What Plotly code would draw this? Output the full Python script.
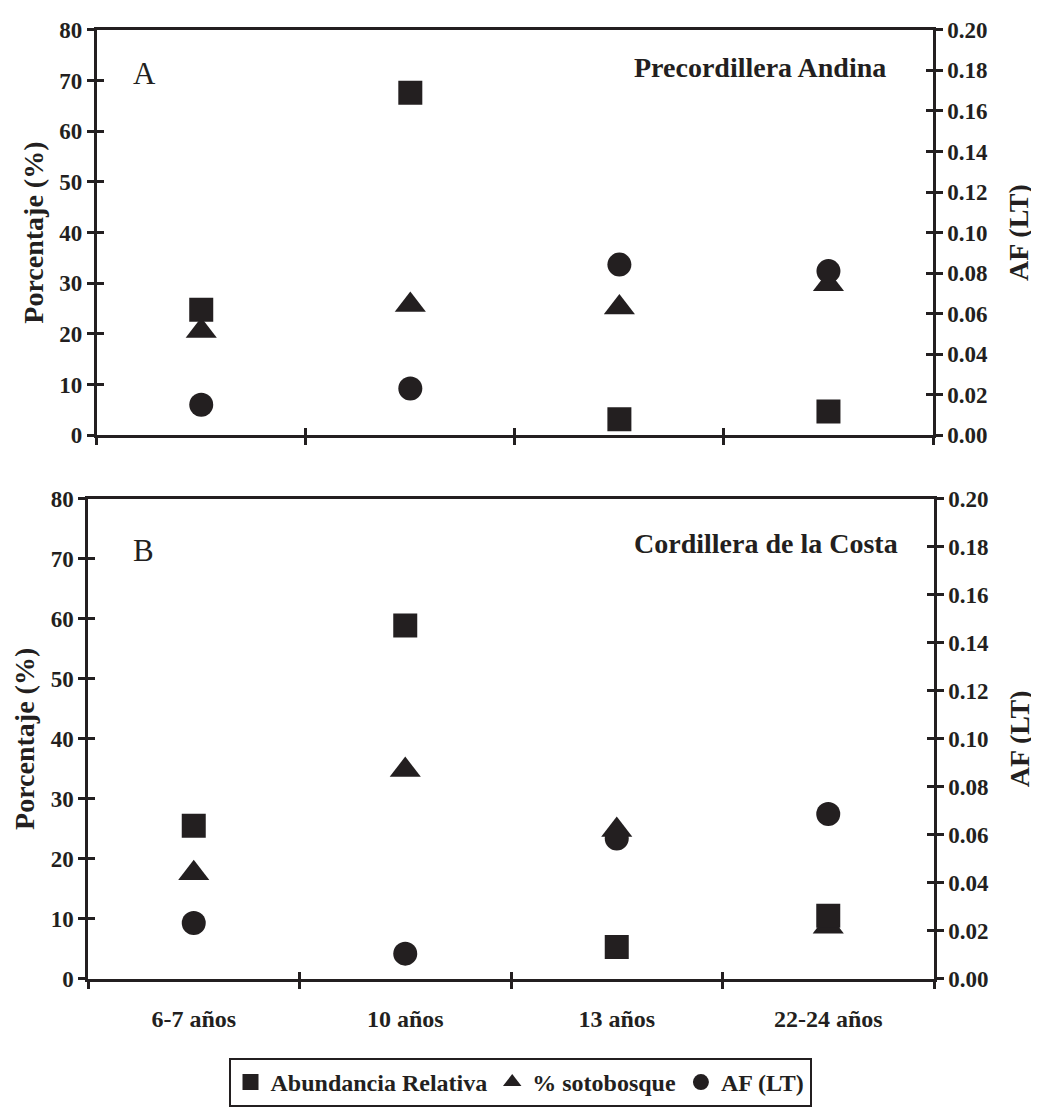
import plotly.graph_objects as go

# ---------------- data ----------------
categories = ["6-7 años", "10 años", "13 años", "22-24 años"]
cat_pos = [0, 1, 2, 3]
boundaries = [-0.5, 0.5, 1.5, 2.5, 3.5]

# Panel A: Precordillera Andina
abund_A = [24.8, 67.6, 3.2, 4.7]          # Abundancia Relativa (%)
soto_A = [20.6, 25.7, 25.2, 29.8]         # % sotobosque
af_A = [0.0151, 0.0231, 0.0842, 0.0810]   # AF (LT), right axis

# Panel B: Cordillera de la Costa
abund_B = [25.5, 58.9, 5.3, 10.5]
soto_B = [17.6, 34.8, 24.8, 8.7]
af_B = [0.0233, 0.0105, 0.0585, 0.0687]

left_ticks = list(range(0, 81, 10))
right_ticks = [0.00, 0.02, 0.04, 0.06, 0.08, 0.10, 0.12, 0.14, 0.16, 0.18, 0.20]

INK = "#231f20"
FONT = "Liberation Serif"
OFF = 8                      # page body margin offset
W, H = 1039 - OFF, 1114 - OFF

fig = go.Figure()

panels = [
    dict(x="x", yl="y", yr="y2", ab=abund_A, so=soto_A, af=af_A, leg=True),
    dict(x="x2", yl="y5", yr="y6", ab=abund_B, so=soto_B, af=af_B, leg=False),
]
for p in panels:
    fig.add_trace(go.Scatter(x=cat_pos, y=p["so"], mode="markers", name="% sotobosque",
                             marker=dict(symbol="triangle-up", size=27, color=INK),
                             xaxis=p["x"], yaxis=p["yl"], showlegend=p["leg"], legendrank=2))
    fig.add_trace(go.Scatter(x=cat_pos, y=p["ab"], mode="markers", name="Abundancia Relativa",
                             marker=dict(symbol="square", size=24, color=INK),
                             xaxis=p["x"], yaxis=p["yl"], showlegend=p["leg"], legendrank=1))
    fig.add_trace(go.Scatter(x=cat_pos, y=p["af"], mode="markers", name="AF (LT)",
                             marker=dict(symbol="circle", size=24, color=INK),
                             xaxis=p["x"], yaxis=p["yr"], showlegend=p["leg"], legendrank=3))

# empty traces so overlay axes (inside halves of cross ticks) are drawn
for xa, ya in [("x3", "y"), ("x", "y3"), ("x", "y4"), ("x4", "y5"), ("x5", "y5"), ("x2", "y7"), ("x2", "y8")]:
    fig.add_trace(go.Scatter(x=[None], y=[None], mode="markers", xaxis=xa, yaxis=ya,
                             showlegend=False, hoverinfo="skip"))

def dx(a, b):
    return [(a - OFF) / W, (b - OFF) / W]

def dy(top, bottom):
    return [1 - (bottom - OFF) / H, 1 - (top - OFF) / H]

dom_xA = dx(96.7, 933)
dom_yA = dy(18, 433)
dom_xB = dx(88, 934)
dom_yB = dy(498, 989)

tick_font = dict(family=FONT, size=23, color=INK, weight="bold")
xlab_font = dict(family=FONT, size=24, color=INK, weight="bold")
title_font = dict(family=FONT, size=28, color=INK, weight="bold")
LW = 2.5
TL = 7

def xmain(domain, anchor):
    return dict(domain=domain, anchor=anchor, range=[-0.5, 3.5], tickmode="array",
                tickvals=boundaries, ticks="outside", ticklen=TL, tickwidth=LW, tickcolor=INK,
                showticklabels=False, showline=True, linewidth=LW, linecolor=INK, mirror=True,
                showgrid=False, zeroline=False, fixedrange=True)

def xinside(over, anchor):
    return dict(overlaying=over, anchor=anchor, range=[-0.5, 3.5], tickmode="array",
                tickvals=boundaries, ticks="inside", ticklen=TL, tickwidth=LW, tickcolor=INK,
                showticklabels=False, showline=False, showgrid=False, zeroline=False)

def yleft(domain, anchor):
    return dict(domain=domain, anchor=anchor, range=[0, 80], tickmode="array", tickvals=left_ticks,
                ticks="outside", ticklen=TL, tickwidth=LW, tickcolor=INK, tickfont=tick_font,
                showline=True, linewidth=LW, linecolor=INK, showgrid=False, zeroline=False,
                title=dict(text="Porcentaje (%)", font=title_font, standoff=8))

def yright(over, anchor):
    return dict(overlaying=over, anchor=anchor, side="right", range=[0, 0.2], tickmode="array",
                tickvals=right_ticks, tickformat=".2f", ticks="outside", ticklen=TL, tickwidth=LW,
                tickcolor=INK, tickfont=tick_font, showline=True, linewidth=LW, linecolor=INK,
                showgrid=False, zeroline=False,
                title=dict(text="AF (LT)", font=title_font, standoff=22))

def yinside(over, anchor, side, rng):
    return dict(overlaying=over, anchor=anchor, side=side, range=rng, tickmode="array",
                tickvals=(left_ticks if rng[1] == 80 else right_ticks), ticks="inside",
                ticklen=TL, tickwidth=LW, tickcolor=INK, showticklabels=False, showline=False,
                showgrid=False, zeroline=False)

fig.update_layout(
    width=W, height=H,
    margin=dict(l=0, r=0, t=0, b=0),
    paper_bgcolor="white", plot_bgcolor="white",
    font=dict(family=FONT, size=23, color=INK, weight="bold"),
    xaxis=xmain(dom_xA, "y"),
    xaxis2=xmain(dom_xB, "y5"),
    xaxis3=xinside("x", "y"),
    xaxis4=xinside("x2", "y5"),
    xaxis5=dict(overlaying="x2", anchor="y5", range=[-0.5, 3.5], tickmode="array",
                tickvals=cat_pos, ticktext=categories, ticks="outside", ticklen=18,
                tickcolor="rgba(0,0,0,0)", tickfont=xlab_font, showline=False,
                showgrid=False, zeroline=False),
    yaxis=yleft(dom_yA, "x"),
    yaxis2=yright("y", "x"),
    yaxis3=yinside("y", "x", "left", [0, 80]),
    yaxis4=yinside("y", "x", "right", [0, 0.2]),
    yaxis5=yleft(dom_yB, "x2"),
    yaxis6=yright("y5", "x2"),
    yaxis7=yinside("y5", "x2", "left", [0, 80]),
    yaxis8=yinside("y5", "x2", "right", [0, 0.2]),
    legend=dict(orientation="h", x=(520 - OFF) / W, xanchor="center",
                y=1 - (1070 - OFF) / H, yanchor="top",
                bordercolor=INK, borderwidth=2, bgcolor="white",
                font=dict(family=FONT, size=24, color=INK, weight="bold"),
                itemwidth=30, tracegroupgap=0),
    showlegend=True,
)

# panel labels and headings
fig.add_annotation(text="A", xref="x domain", yref="y domain", x=0.0566, y=0.891,
                   xanchor="center", yanchor="middle",
                   showarrow=False, font=dict(family=FONT, size=31, color=INK, weight="normal"))
fig.add_annotation(text="Precordillera Andina", xref="x domain", yref="y domain", x=0.946, y=0.906,
                   xanchor="right", yanchor="middle", showarrow=False, font=title_font)
fig.add_annotation(text="B", xref="x2 domain", yref="y5 domain", x=0.066, y=0.892,
                   xanchor="center", yanchor="middle",
                   showarrow=False, font=dict(family=FONT, size=31, color=INK, weight="normal"))
fig.add_annotation(text="Cordillera de la Costa", xref="x2 domain", yref="y5 domain", x=0.96, y=0.908,
                   xanchor="right", yanchor="middle", showarrow=False, font=title_font)

fig.write_html("out.html")
